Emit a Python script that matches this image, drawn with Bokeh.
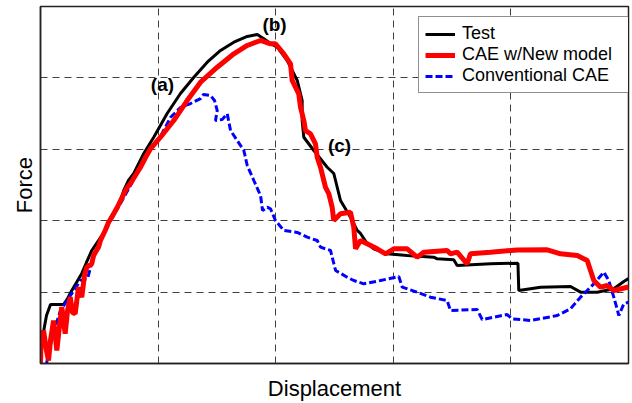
from bokeh.plotting import figure
from bokeh.models import Range1d, FixedTicker, Legend, LegendItem, ColumnDataSource, LabelSet
from bokeh.core.properties import value
from bokeh.embed import file_html
from bokeh.resources import INLINE

# Test (black)
test_x = [0.0, 0.023, 0.051, 0.085, 0.196, 0.230, 0.266, 0.306, 0.351, 0.391, 0.436, 0.493,
          0.550, 0.595, 0.635, 0.680, 0.708, 0.748, 0.793, 0.878, 0.963, 1.077, 1.190, 1.304,
          1.418, 1.531, 1.644, 1.758, 1.843, 1.899, 1.956, 2.013, 2.098, 2.183, 2.225, 2.225,
          2.239, 2.324, 2.438, 2.494, 2.551, 2.636, 2.693, 2.721, 2.778, 2.834, 2.948, 3.118,
          3.344, 3.373, 3.514, 3.543, 3.827, 4.060, 4.067, 4.252, 4.507, 4.592, 4.734, 4.875,
          4.960, 5.0]
test_y = [0.04, 0.42, 0.672, 0.826, 0.826, 0.910, 1.022, 1.134, 1.261, 1.415, 1.583, 1.723,
          1.863, 2.045, 2.143, 2.283, 2.423, 2.563, 2.661, 2.941, 3.169, 3.501, 3.782, 4.010,
          4.220, 4.384, 4.500, 4.580, 4.608, 4.548, 4.482, 4.430, 4.244, 3.964, 3.683, 3.403,
          3.169, 2.983, 2.749, 2.661, 2.283, 2.049, 1.863, 1.821, 1.681, 1.606, 1.536, 1.513,
          1.489, 1.466, 1.452, 1.373, 1.396, 1.405, 1.022, 1.069, 1.078, 0.999, 0.999, 1.046,
          1.148, 1.190]

# CAE w/New model (red)
new_x = [0.0, 0.004, 0.026, 0.051, 0.068, 0.085, 0.111, 0.139, 0.162, 0.181, 0.210, 0.230,
         0.253, 0.272, 0.295, 0.323, 0.351, 0.374, 0.394, 0.436, 0.451, 0.493, 0.510, 0.550,
         0.578, 0.606, 0.652, 0.695, 0.731, 0.765, 0.850, 0.893, 0.935, 1.020, 1.133, 1.247,
         1.361, 1.503, 1.644, 1.758, 1.871, 1.956, 1.998, 2.069, 2.126, 2.140, 2.196, 2.211,
         2.239, 2.253, 2.296, 2.338, 2.353, 2.381, 2.395, 2.423, 2.452, 2.480, 2.494, 2.551,
         2.636, 2.664, 2.679, 2.721, 2.778, 2.863, 2.934, 3.004, 3.118, 3.203, 3.259, 3.458,
         3.486, 3.543, 3.628, 3.656, 3.827, 4.054, 4.309, 4.422, 4.564, 4.649, 4.677, 4.705,
         4.762, 4.819, 4.875, 5.0]
new_y = [0.0, 0.252, 0.462, 0.182, 0.042, 0.322, 0.602, 0.182, 0.532, 0.789, 0.416, 0.742,
         0.929, 0.714, 0.696, 1.069, 0.929, 1.232, 1.349, 1.396, 1.513, 1.629, 1.723, 1.863,
         1.975, 2.049, 2.185, 2.329, 2.451, 2.521, 2.749, 2.885, 3.007, 3.169, 3.403, 3.683,
         3.940, 4.150, 4.338, 4.454, 4.524, 4.478, 4.478, 4.338, 4.197, 3.964, 3.777, 3.590,
         3.403, 3.263, 3.217, 3.077, 2.889, 2.749, 2.657, 2.469, 2.377, 2.189, 2.003, 2.097,
         2.119, 1.909, 1.606, 1.723, 1.676, 1.606, 1.536, 1.606, 1.606, 1.489, 1.559, 1.583,
         1.536, 1.559, 1.396, 1.536, 1.559, 1.590, 1.592, 1.536, 1.513, 1.443, 1.303, 1.162,
         1.069, 1.092, 1.022, 1.071]

# Conventional CAE (blue)
conv_x = [0.051, 0.102, 0.170, 0.255, 0.340, 0.400, 0.442, 0.510, 0.595, 0.680, 0.765, 0.850,
          0.935, 1.020, 1.105, 1.190, 1.276, 1.361, 1.386, 1.446, 1.480, 1.503, 1.488, 1.545,
          1.588, 1.616, 1.673, 1.729, 1.758, 1.814, 1.871, 1.888, 1.928, 1.956, 1.998, 2.069,
          2.183, 2.268, 2.353, 2.381, 2.466, 2.509, 2.608, 2.664, 2.749, 2.891, 3.047, 3.076,
          3.203, 3.316, 3.458, 3.486, 3.713, 3.756, 3.968, 4.011, 4.167, 4.394, 4.507, 4.592,
          4.705, 4.790, 4.832, 4.875, 4.918, 4.960, 5.0]
conv_y = [0.0, 0.392, 0.742, 0.952, 1.162, 1.190, 1.443, 1.723, 2.003, 2.241, 2.493, 2.759,
          3.011, 3.179, 3.445, 3.585, 3.641, 3.711, 3.768, 3.754, 3.683, 3.543, 3.403, 3.417,
          3.497, 3.263, 3.123, 2.983, 2.773, 2.563, 2.353, 2.143, 2.189, 2.167, 2.003, 1.863,
          1.835, 1.769, 1.723, 1.629, 1.583, 1.303, 1.209, 1.162, 1.116, 1.162, 1.218, 1.069,
          0.999, 0.929, 0.882, 0.742, 0.756, 0.616, 0.686, 0.626, 0.602, 0.672, 0.766, 0.929,
          1.116, 1.279, 1.162, 0.929, 0.672, 0.836, 0.859]

series_names = ["Test", "CAE w/New model", "Conventional CAE"]
grid_ticks = [1, 2, 3, 4]

ann_text = ["(a)", "(b)", "(c)"]
ann_x = [1.037, 1.990, 2.543]
ann_y = [3.908, 4.748, 3.053]

FONT = "Liberation Sans"

p = figure(width=632, height=403, output_backend="svg", toolbar_location=None,
           x_range=Range1d(0, 5), y_range=Range1d(0, 5),
           min_border_left=40, min_border_right=4, min_border_top=6, min_border_bottom=40)
p.background_fill_color = "white"
p.border_fill_color = "white"
p.outline_line_color = "#222222"
p.outline_line_width = 1.5

for ax in (p.xaxis[0], p.yaxis[0]):
    ax.ticker = FixedTicker(ticks=[])
    ax.major_label_standoff = 0
    ax.major_tick_in = 0
    ax.major_tick_out = 0
    ax.minor_tick_in = 0
    ax.minor_tick_out = 0
    ax.axis_line_color = "#222222"
    ax.axis_line_width = 1.5
    ax.axis_label_text_font = FONT
    ax.axis_label_text_font_size = "22px"
    ax.axis_label_text_font_style = "normal"
    ax.axis_label_text_color = "black"
p.xaxis.axis_label = "Displacement"
p.yaxis.axis_label = "Force"
p.xaxis.axis_label_standoff = 12
p.yaxis.axis_label_standoff = 4

p.xgrid.ticker = FixedTicker(ticks=grid_ticks)
p.ygrid.ticker = FixedTicker(ticks=grid_ticks)
for g in (p.xgrid[0], p.ygrid[0]):
    g.grid_line_color = "#404040"
    g.grid_line_dash = "7 5"
    g.grid_line_width = 1

r_test = p.line(test_x, test_y, line_color="black", line_width=3)
r_conv = p.line(conv_x, conv_y, line_color="#0000ff", line_width=3, line_dash="7 3")
r_new = p.line(new_x, new_y, line_color="#ff0000", line_width=5)

legend = Legend(items=[LegendItem(label=series_names[0], renderers=[r_test]),
                       LegendItem(label=series_names[1], renderers=[r_new]),
                       LegendItem(label=series_names[2], renderers=[r_conv])],
                location=(378, 270))
legend.label_text_font = FONT
legend.label_text_font_size = "18px"
legend.label_text_color = "black"
legend.glyph_width = 30
legend.glyph_height = 20
legend.label_height = 20
legend.label_width = 164
legend.label_standoff = 7
legend.spacing = -4
legend.padding = 6
legend.margin = 0
legend.border_line_color = "#222222"
legend.border_line_width = 1
legend.background_fill_alpha = 1
p.add_layout(legend)

ann = ColumnDataSource(data=dict(x=ann_x, y=ann_y, t=ann_text))
p.add_layout(LabelSet(x="x", y="y", text="t", source=ann, text_font=value(FONT),
                      text_font_size=value("19px"), text_font_style=value("bold"),
                      text_align="center", text_baseline="middle", text_color="black"))

open("out.html", "w").write(file_html(p, INLINE))
